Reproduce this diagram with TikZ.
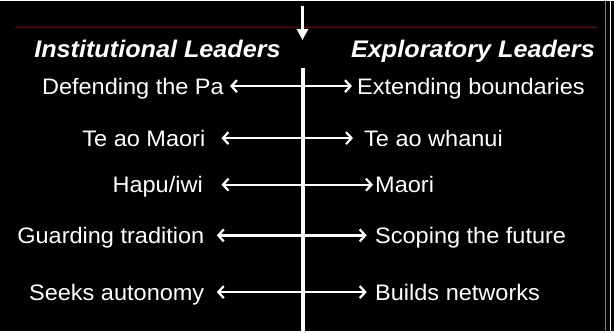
\documentclass[tikz,border=0pt]{standalone}
\usepackage{fontspec}
\setmainfont{Liberation Sans}[FakeStretch=1.05]
\usetikzlibrary{arrows.meta}

\tikzset{
  item/.style={text=white,inner sep=0pt,text height=16pt,text depth=0pt,
    font=\fontsize{22.4}{26}\selectfont},
  heading/.style={text=white,inner sep=0pt,anchor=base,
    font=\fontsize{24}{28}\selectfont\bfseries\itshape},
  pull/.style={draw=white,line width=2.2pt,
    {Straight Barb[length=5.5pt,width=12pt]}-{Straight Barb[length=5.5pt,width=12pt]}}
}
% one row: name, baseline, left end, left text, right start, right text, gaps
\newcommand\leaderrow[8]{%
  \node[item,anchor=base east] (inst#1) at (#3,#2) {#4};
  \node[item,anchor=base west] (expl#1) at (#5,#2) {#6};
  \draw[pull,shorten <=#7pt,shorten >=#8pt] (inst#1.east) -- (expl#1.west);
}

\begin{document}
\begin{tikzpicture}[x=1pt,y=-1pt]
  % Background and frame
  \fill[black] (0,0) rectangle (614,330);
  \draw[gray,line width=1pt] (605.5,0) -- (605.5,330);
  \draw[white,line width=1pt] (610.5,0) -- (610.5,330);

  % Divider
  \draw[red!50!black,line width=1.2pt] (15,27.3) -- (597,27.3);
  \draw[white,line width=3pt,-{Triangle[length=11pt,width=11pt]}] (302.5,5) -- (302.5,39.5);
  \draw[white,line width=3.5pt] (303,67) -- (303,330);

  % The two sides
  \node[heading] (inst) at (157.5,56.7) {Institutional Leaders};
  \node[heading] (expl) at (473,56.7) {Exploratory Leaders};

  \leaderrow{1}{93.6}{224}{Defending the Pa}{357}{Extending boundaries}{6}{5};
  \leaderrow{2}{145.6}{205.5}{Te ao Maori}{364}{Te ao whanui}{16}{11};
  \leaderrow{3}{192.2}{203}{Hapu/iwi}{375}{Maori}{18.5}{2};
  \leaderrow{4}{242.9}{204.5}{Guarding tradition}{375}{Scoping the future}{12.3}{8.3};
  \leaderrow{5}{299.6}{204.5}{Seeks autonomy}{375}{Builds networks}{12.3}{8.3};
\end{tikzpicture}
\end{document}
